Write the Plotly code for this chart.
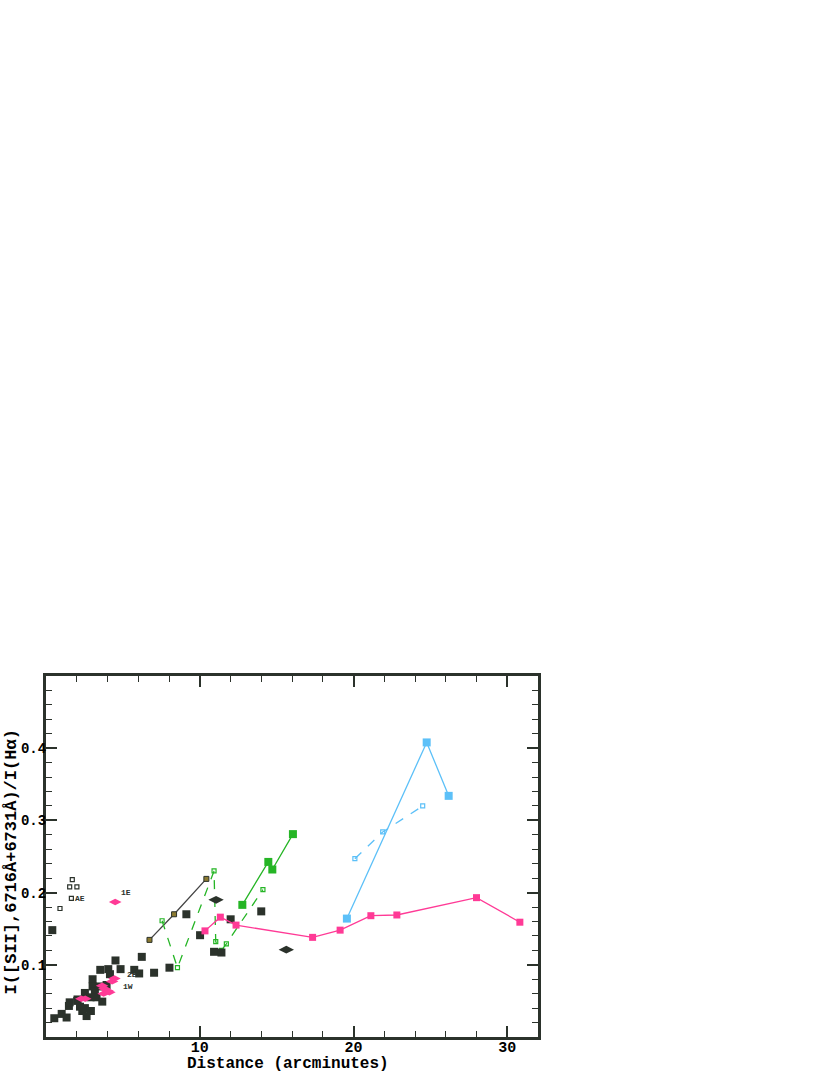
import plotly.graph_objects as go

# ---- data (Distance in arcminutes, I([SII])/I(Ha)) ----
dark_x = [0.41, 0.54, 1.02, 1.34, 1.49, 1.54, 2.03, 2.05, 2.21, 2.36, 2.53, 2.53, 2.64, 2.90, 2.92,
          3.03, 3.03, 3.18, 3.29, 3.46, 3.53, 3.66, 3.94, 4.05, 4.16, 4.52, 4.85, 5.74, 6.06, 6.23,
          7.03, 8.03, 9.13, 10.02, 10.93, 11.41, 12.01, 14.0]
dark_y = [0.148, 0.026, 0.032, 0.027, 0.043, 0.048, 0.050, 0.052, 0.042, 0.036, 0.061, 0.040, 0.029, 0.055, 0.036,
          0.080, 0.070, 0.063, 0.055, 0.070, 0.093, 0.049, 0.072, 0.094, 0.087, 0.106, 0.094, 0.093, 0.088, 0.111,
          0.089, 0.096, 0.170, 0.141, 0.118, 0.117, 0.163, 0.174]

dark_diamond_x = [11.06, 15.63]
dark_diamond_y = [0.190, 0.121]

open_dark_x = [0.91, 1.54, 1.65, 1.71, 2.01]
open_dark_y = [0.178, 0.208, 0.192, 0.218, 0.208]

pink_diam_x = [2.30, 2.55, 3.65, 3.80, 3.75, 4.00, 4.12, 4.30, 4.45, 4.50]
pink_diam_y = [0.053, 0.053, 0.071, 0.067, 0.060, 0.064, 0.062, 0.077, 0.081, 0.187]

black_line_x = [6.73, 8.33, 10.43]
black_line_y = [0.1345, 0.170, 0.219]

green_solid_x = [12.77, 14.46, 14.72, 16.06]
green_solid_y = [0.183, 0.2425, 0.232, 0.281]

green_dash_x = [7.55, 8.55, 10.93, 11.04, 11.41, 11.73, 14.11]
green_dash_y = [0.161, 0.096, 0.230, 0.132, 0.120, 0.129, 0.204]

pink_line_x = [10.34, 11.34, 12.36, 17.34, 19.13, 21.13, 22.82, 28.0, 30.82]
pink_line_y = [0.147, 0.166, 0.155, 0.138, 0.148, 0.168, 0.169, 0.193, 0.159]

blue_solid_x = [19.57, 24.76, 26.19]
blue_solid_y = [0.164, 0.408, 0.334]

blue_dash_x = [20.09, 21.9, 24.5]
blue_dash_y = [0.247, 0.284, 0.320]

x_ticks = [10, 20, 30]
y_ticks = [0.1, 0.2, 0.3, 0.4]
y_tick_text = ["0.1", "0.2", "0.3", "0.4"]

DARK = "#2b322b"
PINK = "#ff3a96"
GREEN = "#25b525"
BLUE = "#5cc0f8"
FONT = "Liberation Mono"

fig = go.Figure()

fig.add_trace(go.Scatter(x=black_line_x, y=black_line_y, mode="lines+markers",
                         line=dict(color="#444444", width=1.3),
                         marker=dict(symbol="square", size=5, color="#8c7a30",
                                     line=dict(color=DARK, width=1))))
fig.add_trace(go.Scatter(x=green_dash_x, y=green_dash_y, mode="lines+markers",
                         line=dict(color=GREEN, width=1.3, dash="dash"),
                         marker=dict(symbol="square-open", size=4, color=GREEN, line=dict(width=1.2))))
fig.add_trace(go.Scatter(x=green_solid_x, y=green_solid_y, mode="lines+markers",
                         line=dict(color=GREEN, width=1.3),
                         marker=dict(symbol="square", size=8, color=GREEN)))
fig.add_trace(go.Scatter(x=blue_dash_x, y=blue_dash_y, mode="lines+markers",
                         line=dict(color=BLUE, width=1.3, dash="dash"),
                         marker=dict(symbol="square-open", size=4, color=BLUE, line=dict(width=1.2))))
fig.add_trace(go.Scatter(x=blue_solid_x, y=blue_solid_y, mode="lines+markers",
                         line=dict(color=BLUE, width=1.3),
                         marker=dict(symbol="square", size=8, color=BLUE)))
fig.add_trace(go.Scatter(x=dark_x, y=dark_y, mode="markers",
                         marker=dict(symbol="square", size=8, color=DARK)))
fig.add_trace(go.Scatter(x=dark_diamond_x, y=dark_diamond_y, mode="markers",
                         marker=dict(symbol="diamond-wide", size=11, color=DARK)))
fig.add_trace(go.Scatter(x=open_dark_x, y=open_dark_y, mode="markers",
                         marker=dict(symbol="square-open", size=4, color=DARK, line=dict(width=1.2))))
fig.add_trace(go.Scatter(x=pink_line_x, y=pink_line_y, mode="lines+markers",
                         line=dict(color=PINK, width=1.3),
                         marker=dict(symbol="square", size=7, color=PINK)))
fig.add_trace(go.Scatter(x=pink_diam_x, y=pink_diam_y, mode="markers",
                         marker=dict(symbol="diamond-wide", size=9, color=PINK)))

labels = [("AE", 1.75, 0.192), ("1E", 4.75, 0.200), ("2E", 5.15, 0.086), ("1W", 4.85, 0.070)]
for t, lx, ly in labels:
    fig.add_annotation(x=lx, y=ly, text=t, showarrow=False, xanchor="left",
                       font=dict(family=FONT, size=8, color=DARK, weight="bold"))

# axis titles
fig.add_annotation(xref="paper", yref="paper", x=0.5, y=0, xshift=-4, yshift=-27,
                   xanchor="center", yanchor="middle", showarrow=False,
                   text="Distance (arcminutes)",
                   font=dict(family=FONT, size=16, color="black", weight="bold"))
fig.add_annotation(xref="paper", yref="paper", x=0, y=0.485, xshift=-34.5,
                   xanchor="center", yanchor="middle", showarrow=False, textangle=-90,
                   text="I([SII],6716Å+6731Å)/I(Hα)",
                   font=dict(family=FONT, size=17, color="black", weight="bold"))

axis_common = dict(showline=True, linecolor=DARK, linewidth=3, mirror="ticks",
                   ticks="inside", tickcolor=DARK, tickwidth=1.5, ticklen=11,
                   showgrid=False, zeroline=False)

fig.update_xaxes(range=[0, 32], tickvals=x_ticks, ticklabelstandoff=-6,
                 tickfont=dict(family=FONT, size=15, color="black", weight="bold"),
                 minor=dict(dtick=2, ticks="inside", ticklen=6, tickcolor=DARK, tickwidth=1.2),
                 **axis_common)
fig.update_yaxes(range=[0, 0.5], tickvals=y_ticks, ticktext=y_tick_text, ticklabelstandoff=-6,
                 tickfont=dict(family=FONT, size=14, color="black", weight="bold"),
                 minor=dict(dtick=0.02, ticks="inside", ticklen=6, tickcolor=DARK, tickwidth=1.2),
                 **axis_common)

fig.update_layout(width=830, height=1075, showlegend=False,
                  plot_bgcolor="white", paper_bgcolor="white",
                  margin=dict(l=46, r=292, t=676, b=38, autoexpand=False))

fig.write_html("out.html", config={"displayModeBar": False},
               post_script="document.body.style.margin='0px';")
